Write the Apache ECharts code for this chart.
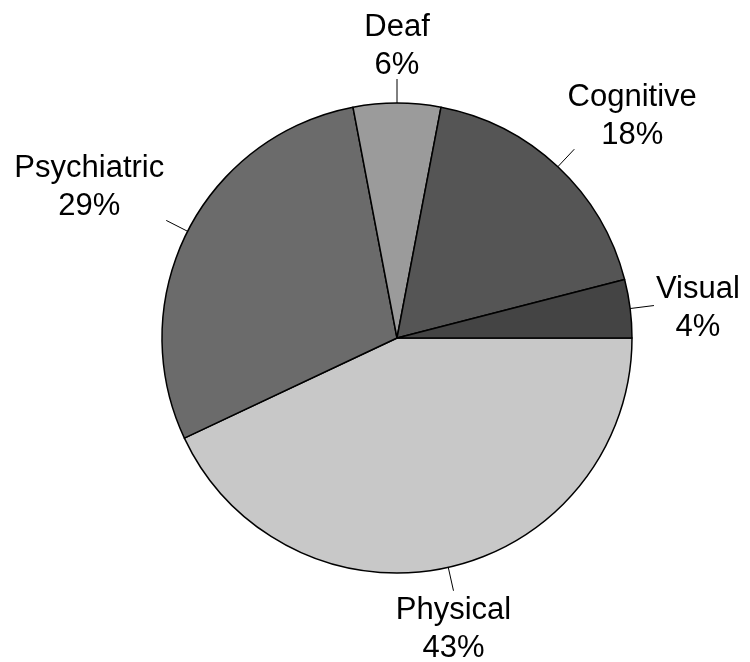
<!DOCTYPE html>
<html>
<head>
<meta charset="utf-8">
<script src="https://cdn.jsdelivr.net/npm/echarts@6/dist/echarts.min.js"></script>
<style>
html,body{margin:0;padding:0;background:#fff;}
#chart{width:750px;height:662px;}
</style>
</head>
<body>
<div id="chart"></div>
<script>
const categories = ['Physical', 'Psychiatric', 'Deaf', 'Cognitive', 'Visual'];
const values = [43, 29, 6, 18, 4];
const sliceColors = ['#c8c8c8', '#6b6b6b', '#9b9b9b', '#555555', '#444444'];

const chart = echarts.init(document.getElementById('chart'), null, {renderer: 'canvas'});

function clamp1(v) { return Math.max(0, Math.min(1, v)); }

const option = {
  backgroundColor: '#ffffff',
  animation: false,
  series: [{
    type: 'pie',
    center: [397, 338],
    radius: 235,
    startAngle: 0,
    clockwise: true,
    avoidLabelOverlap: false,
    data: categories.map((c, i) => ({
      name: c,
      value: values[i],
      itemStyle: {color: sliceColors[i]}
    })),
    itemStyle: {borderColor: '#000', borderWidth: 1.5},
    label: {
      show: true,
      position: 'outside',
      formatter: '{b}\n{d}%',
      fontFamily: 'Liberation Sans, Arial, sans-serif',
      fontSize: 31,
      lineHeight: 38,
      color: '#000'
    },
    labelLine: {
      show: true,
      length: 24,
      length2: 0,
      smooth: false,
      lineStyle: {color: '#000', width: 1}
    },
    emphasis: {disabled: true},
    labelLayout: function (params) {
      const pts = params.labelLinePoints;
      if (!pts) return {};
      const p0 = pts[0], p1 = pts[1];
      const ddx = p1[0] - p0[0], ddy = p1[1] - p0[1];
      const len = Math.sqrt(ddx * ddx + ddy * ddy) || 1;
      const c = ddx / len, s = ddy / len;
      const fx = Math.sign(c) * clamp1((Math.abs(c) - 0.25) / 0.5);
      const fy = Math.sign(s) * clamp1((Math.abs(s) - 0.15) / 0.3);
      const end = pts[pts.length - 1];
      const w = params.labelRect.width, h = params.labelRect.height;
      return {
        x: end[0] + fx * (w / 2 + 2),
        y: end[1] + fy * (h / 2 - 2) + 3,
        align: 'center',
        verticalAlign: 'middle',
        labelLinePoints: pts
      };
    }
  }]
};
chart.setOption(option);
</script>
</body>
</html>
